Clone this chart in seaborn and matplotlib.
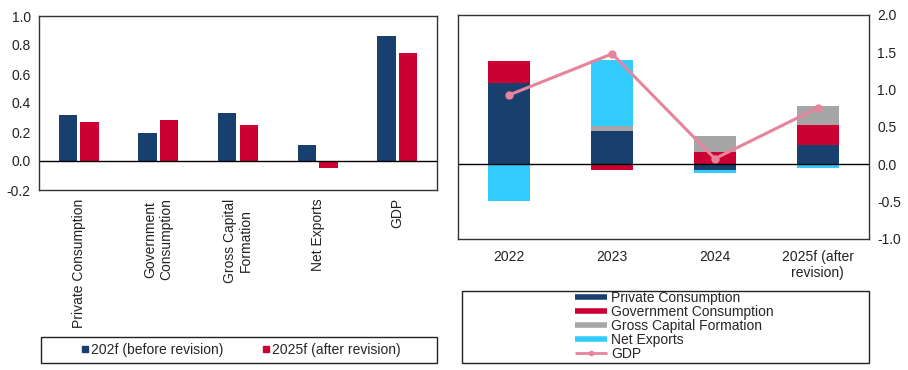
import numpy as np
import pandas as pd
import matplotlib
matplotlib.use("Agg")
import matplotlib.pyplot as plt
from matplotlib.lines import Line2D
from matplotlib.patches import Rectangle
import seaborn as sns

# left chart: revision of 2025 forecast contributions
components = ["Private Consumption", "Government\nConsumption", "Gross Capital\nFormation",
              "Net Exports", "GDP"]
before_rev = [0.32, 0.19, 0.33, 0.113, 0.863]
after_rev = [0.27, 0.28, 0.245, -0.046, 0.745]
rev_labels = ["202f (before revision)", "2025f (after revision)"]

# right chart: contributions to GDP growth by year
years = ["2022", "2023", "2024", "2025f (after\nrevision)"]
private_cons = [1.09, 0.44, -0.07, 0.255]
gov_cons = [0.30, -0.08, 0.165, 0.275]
gross_cap = [0.0, 0.08, 0.21, 0.25]
net_exports = [-0.495, 0.88, -0.04, -0.05]
gdp = [0.93, 1.48, 0.076, 0.755]

BLUE = "#193f6f"
RED = "#cc0033"
GRAY = "#a6a6a6"
CYAN = "#33ccff"
PINK = "#e8839c"
FS = 10

sns.set_style("white")
plt.rcParams["font.family"] = ["Liberation Sans", "DejaVu Sans"]
plt.rcParams["font.size"] = FS

fig = plt.figure(figsize=(9.08, 3.70), dpi=100)
W, H = 908, 370


def axes_px(x0, y0, x1, y1):
    return fig.add_axes([x0 / W, 1 - y1 / H, (x1 - x0) / W, (y1 - y0) / H])


# ---- left chart ----
ax1 = axes_px(39, 16, 437, 190)
df = pd.DataFrame({
    "component": components * 2,
    "value": before_rev + after_rev,
    "series": [rev_labels[0]] * 5 + [rev_labels[1]] * 5,
})
sns.barplot(data=df, x="component", y="value", hue="series", palette=[BLUE, RED],
            width=0.54, gap=0.14, ax=ax1, legend=False, saturation=1, linewidth=0)
ax1.axhline(0, color="black", lw=1)
ax1.set_ylim(-0.2, 1.0)
ax1.set_xlim(-0.5, 4.5)
ax1.set_yticks(np.arange(-0.2, 1.01, 0.2))
ax1.set_yticklabels([f"{v:.1f}" for v in np.arange(-0.2, 1.01, 0.2)])
ax1.set_xticks(range(5))
ax1.set_xticklabels(components, rotation=90, va="top", ha="center",
                    multialignment="center")
ax1.set_xlabel("")
ax1.set_ylabel("")
ax1.tick_params(axis="both", length=0, pad=6, labelsize=FS, colors="#222222")
for s in ax1.spines.values():
    s.set_color("#333333")
    s.set_linewidth(1)

fig.patches.append(Rectangle((41 / W, 1 - 363 / H), 396 / W, 26 / H,
                             transform=fig.transFigure, fill=False,
                             edgecolor="#222222", lw=1))
h1 = [Line2D([], [], marker="s", ls="", color=c, markersize=5) for c in (BLUE, RED)]
fig.legend(h1, rev_labels, loc="center", bbox_to_anchor=(240 / W, 1 - 350 / H),
           ncol=2, frameon=False, fontsize=FS, handletextpad=0.0,
           columnspacing=2.6, handlelength=0.9)

# ---- right chart ----
ax2 = axes_px(458, 15, 869, 239)
x = np.arange(len(years))
series = [(private_cons, BLUE, "Private Consumption"),
          (gov_cons, RED, "Government Consumption"),
          (gross_cap, GRAY, "Gross Capital Formation"),
          (net_exports, CYAN, "Net Exports")]
pos_base = np.zeros(len(years))
neg_base = np.zeros(len(years))
for vals, col, lab in series:
    vals = np.array(vals)
    bottoms = np.where(vals >= 0, pos_base, neg_base)
    ax2.bar(x, vals, bottom=bottoms, width=0.41, color=col, label=lab, linewidth=0)
    pos_base += np.where(vals >= 0, vals, 0)
    neg_base += np.where(vals < 0, vals, 0)
sns.lineplot(x=x, y=gdp, ax=ax2, color=PINK, lw=2.2, marker="o", markersize=6,
             markeredgewidth=0, label="GDP", legend=False)
ax2.axhline(0, color="black", lw=1)
ax2.set_ylim(-1.0, 2.0)
ax2.set_xlim(-0.5, 3.5)
ax2.yaxis.tick_right()
ax2.set_yticks(np.arange(-1.0, 2.01, 0.5))
ax2.set_yticklabels([f"{v:.1f}" for v in np.arange(-1.0, 2.01, 0.5)])
ax2.set_xticks(x)
ax2.set_xticklabels(years, multialignment="center")
ax2.tick_params(axis="x", length=0, pad=8, labelsize=FS, colors="#222222")
ax2.tick_params(axis="y", length=0, pad=6, labelsize=FS, colors="#222222")
for s in ax2.spines.values():
    s.set_color("#333333")
    s.set_linewidth(1)

fig.patches.append(Rectangle((462 / W, 1 - 363 / H), 407 / W, 72 / H,
                             transform=fig.transFigure, fill=False,
                             edgecolor="#222222", lw=1))
h2 = [Line2D([], [], color=c, lw=4, solid_capstyle="butt") for _, c, _ in series]
h2.append(Line2D([], [], color=PINK, lw=2, marker="o", markersize=3,
                 solid_capstyle="butt"))
l2 = [lab for _, _, lab in series] + ["GDP"]
fig.legend(h2, l2, loc="center left", bbox_to_anchor=(568 / W, 1 - 326 / H),
           frameon=False, fontsize=FS, labelspacing=0.0, handlelength=2.3,
           handletextpad=0.3, borderpad=0)

fig.savefig("out.png", dpi=100)
